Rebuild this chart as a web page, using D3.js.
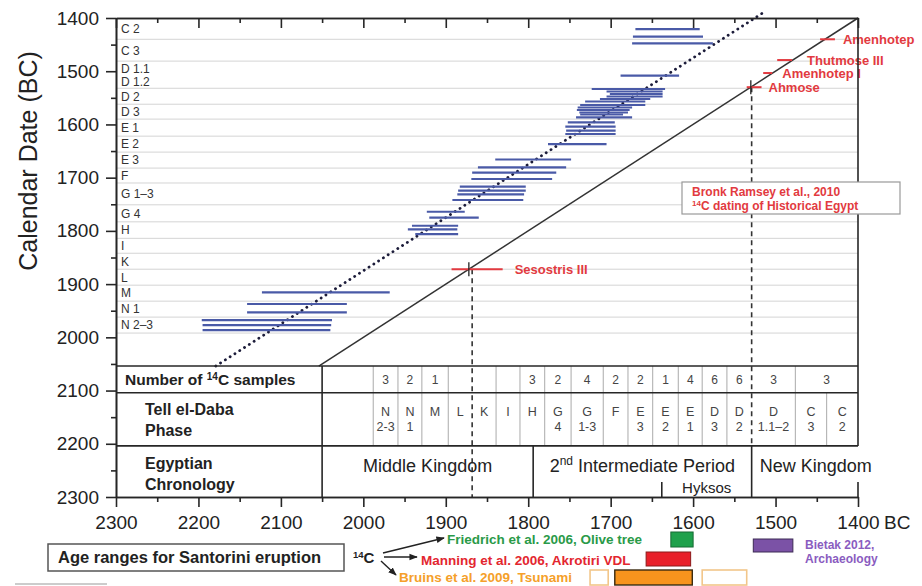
<!DOCTYPE html>
<html><head><meta charset="utf-8">
<script src="https://cdn.jsdelivr.net/npm/d3@7"></script>
<style>
body{margin:0;background:#fff}
svg{display:block}
text{font-family:"Liberation Sans",Arial,Helvetica,sans-serif}
</style>
</head><body>
<svg id="c" width="922" height="586"></svg>
<script>
// ---------------- DATA ----------------
const xTicks = [2300, 2200, 2100, 2000, 1900, 1800, 1700, 1600, 1500, 1400];
const yTicks = [1400, 1500, 1600, 1700, 1800, 1900, 2000, 2100, 2200, 2300];

// Tell el-Daba phase bands (calendar years BC)
const phaseLabels = ["C 2","C 3","D 1.1|D 1.2","D 2","D 3","E 1","E 2","E 3","F","G 1–3","G 4","H","I","K","L","M","N 1","N 2–3"];
const phaseBounds = [1400,1440,1481,1532,1562,1590,1622,1652,1682,1710,1751,1783,1814,1842,1872,1902,1932,1962,1992];

// 14C sample ranges: calendar date (y) and 14C range (x, from -> to)
const barCal  = [1421,1435,1447.5, 1508.4, 1533.4,1538.1,1542.8,1547.5,1552.2,1556.9, 1563.5,1568.2,1572.9,1577.6,1581.3,1586.6, 1596,1604.2,1611.8,1618, 1636.8, 1665.9,1680.5, 1690.7,1702.5, 1717,1724.5,1731.3,1742, 1764,1775.2, 1790.3,1797,1805.9, 1915.4, 1937.4,1953, 1967.5,1976.9,1986.3];
const barFrom = [1670,1673,1674, 1688, 1723,1705,1701,1705,1713,1731, 1737,1740,1741,1738,1737,1742, 1752,1755,1754,1755, 1776, 1840,1861, 1868,1869, 1883,1885,1886,1892, 1923,1920, 1941,1946,1937, 2123, 2141,2141, 2196,2195,2195];
const barTo   = [1592,1588,1576, 1617, 1634,1637,1637,1637,1652,1658, 1658,1674,1677,1679,1685,1674, 1695,1694,1694,1694, 1705, 1748,1754, 1766,1771, 1803,1803,1805,1806, 1877,1860, 1885,1886,1885, 1968, 2020,2020, 2038,2039,2040];

// Reference lines
const identityLine = [[2054,2054],[1400,1400]];
const offsetLine   = [[2179,2054],[1515,1390]];

// Bronk Ramsey et al. 2010 kings
const kingNames = ["Amenhotep","Thutmose III","Amenhotep I","Ahmose","Sesostris III"];
const kingCal   = [1440,1479,1503.4,1530,1872];
const kingFrom  = [1446,1498,1515,1535,1893];
const kingTo    = [1428,1480,1504,1517,1831];

// Table
const colBounds   = [2050,1988,1958,1929,1897,1868,1839,1810,1780,1748,1709,1679,1649,1618,1589,1559,1529,1476,1438,1400];
const phaseTop    = ["","N","N","M","L","K","I","H","G","G","F","E","E","E","D","D","D","C","C"];
const phaseBottom = ["","2-3","1","","","","","","4","1-3","","3","2","1","3","2","1.1–2","3","2"];
const sampleCounts= ["","3","2","1","","","","3","2","4","2","2","1","4","6","6","3","3"]; // last spans C 3 + C 2
const eraNames  = ["Middle Kingdom","Intermediate Period","New Kingdom"];
const eraBounds = [2050,1794,1529,1400];
const hyksosStart = 1638;

// Santorini eruption age ranges
const studyNames  = ["Friedrich et al. 2006, Olive tree","Manning et al. 2006, Akrotiri VDL","Bruins et al. 2009, Tsunami"];
const studyColors = ["#2a9a48","#e3262f","#f5a02a"];
const studyFrom   = [1627,1657,1695];
const studyTo     = [1600,1603,1601];
const bruinsOpenFrom = [1725,1589];
const bruinsOpenTo   = [1703,1535];
const bietakFrom = 1527, bietakTo = 1479;

// ---------------- CHART ----------------
const svg = d3.select("#c");
const x = d3.scaleLinear().domain([2300,1400]).range([116,858]);
const y = d3.scaleLinear().domain([1400,2300]).range([18,497]);
const ink = "#262626";

// phase gridlines
svg.append("g").selectAll("line").data(phaseBounds.slice(1)).join("line")
  .attr("x1",x(2300)).attr("x2",x(1400))
  .attr("y1",d=>y(d)).attr("y2",d=>y(d))
  .attr("stroke","#d4d4d4").attr("stroke-width",1);

// phase labels
const pl = svg.append("g").attr("font-size",12).attr("fill","#333");
phaseLabels.forEach((lab,i)=>{
  const mid = (y(phaseBounds[i]) + y(phaseBounds[i+1])) / 2;
  const parts = lab.split("|");
  parts.forEach((p,j)=>{
    const off = parts.length === 1 ? 0 : (j === 0 ? -6.5 : 6.5);
    pl.append("text").attr("x",121).attr("y",mid+off).attr("dy","0.36em").text(p);
  });
});

// identity line
const line = d3.line().x(d=>x(d[0])).y(d=>y(d[1]));
svg.append("path").attr("d",line(identityLine)).attr("fill","none")
  .attr("stroke","#333").attr("stroke-width",1.5);
// offset dotted line
svg.append("path").attr("d",line(offsetLine)).attr("fill","none")
  .attr("stroke","#1c1c3a").attr("stroke-width",2.8)
  .attr("stroke-linecap","round").attr("stroke-dasharray","0.1 5.6");

// 14C bars
svg.append("g").selectAll("line").data(barCal).join("line")
  .attr("x1",(d,i)=>x(barFrom[i])).attr("x2",(d,i)=>x(barTo[i]))
  .attr("y1",d=>y(d)).attr("y2",d=>y(d))
  .attr("stroke","#4a5aa7").attr("stroke-width",2.2);

// dashed verticals (Sesostris III, Ahmose)
const yT0 = y(2054), yT1 = y(2104), yT2 = y(2204), yB = y(2300);
svg.append("line").attr("x1",x(1868)).attr("x2",x(1868)).attr("y1",y(1872)).attr("y2",yB)
  .attr("stroke","#333").attr("stroke-width",1.6).attr("stroke-dasharray","5 4");
svg.append("line").attr("x1",x(1529)).attr("x2",x(1529)).attr("y1",y(1530)).attr("y2",yT2)
  .attr("stroke","#333").attr("stroke-width",1.6).attr("stroke-dasharray","5 4");

// king markers
const red = "#e23a40";
const kg = svg.append("g");
kingNames.forEach((k,i)=>{
  kg.append("line").attr("x1",x(kingFrom[i])).attr("x2",x(kingTo[i]))
    .attr("y1",y(kingCal[i])).attr("y2",y(kingCal[i]))
    .attr("stroke",red).attr("stroke-width",2);
});
[3,4].forEach(i=>{
  kg.append("line").attr("x1",x(kingCal[i])).attr("x2",x(kingCal[i]))
    .attr("y1",y(kingCal[i])-7).attr("y2",y(kingCal[i])+7)
    .attr("stroke","#222").attr("stroke-width",1.3);
});
const labelDx = [8,15,10,7,12];
kingNames.forEach((k,i)=>{
  kg.append("text").attr("x",x(kingTo[i])+labelDx[i]).attr("y",y(kingCal[i]))
    .attr("dy","0.36em").attr("font-size",13).attr("font-weight","bold")
    .attr("fill",red).text(k);
});

// Bronk Ramsey box
const bb = svg.append("g");
bb.append("rect").attr("x",682).attr("y",182).attr("width",218).attr("height",32)
  .attr("fill","#fff").attr("stroke","#999").attr("stroke-width",1.2);
bb.append("text").attr("x",692).attr("y",196).attr("font-size",12).attr("font-weight","bold")
  .attr("fill",red).text("Bronk Ramsey et al., 2010");
const bt = bb.append("text").attr("x",692).attr("y",210).attr("font-size",12).attr("font-weight","bold").attr("fill",red);
bt.append("tspan").attr("font-size",8).attr("dy",-4).text("14");
bt.append("tspan").attr("dy",4).text("C dating of Historical Egypt");

// ---------------- TABLE ----------------
const tb = svg.append("g");
colBounds.slice(1,-1).forEach(c=>{
  if (c === 1868 || c === 1529) return;
  const top = (c === 1438) ? yT1 : yT0;
  tb.append("line").attr("x1",x(c)).attr("x2",x(c)).attr("y1",top).attr("y2",yT2)
    .attr("stroke","#aaa").attr("stroke-width",1);
});
tb.append("line").attr("x1",x(1529)).attr("x2",x(1529)).attr("y1",yT2).attr("y2",yB)
  .attr("stroke",ink).attr("stroke-width",1.6);
tb.append("line").attr("x1",x(eraBounds[1])).attr("x2",x(eraBounds[1])).attr("y1",yT2).attr("y2",yB)
  .attr("stroke",ink).attr("stroke-width",1.6);
tb.append("line").attr("x1",x(hyksosStart)).attr("x2",x(hyksosStart)).attr("y1",482).attr("y2",yB)
  .attr("stroke",ink).attr("stroke-width",1.6);
[yT0,yT1,yT2].forEach(v=>{
  tb.append("line").attr("x1",x(2300)).attr("x2",x(1400)).attr("y1",v).attr("y2",v)
    .attr("stroke",ink).attr("stroke-width",1.6);
});
tb.append("line").attr("x1",x(2050)).attr("x2",x(2050)).attr("y1",yT0).attr("y2",yB)
  .attr("stroke",ink).attr("stroke-width",1.6);

sampleCounts.forEach((s,i)=>{
  if (!s) return;
  let cx = (x(colBounds[i]) + x(colBounds[i+1])) / 2;
  if (i === sampleCounts.length-1) cx = x(colBounds[i+1]);
  tb.append("text").attr("x",cx).attr("y",(yT0+yT1)/2).attr("dy","0.36em")
    .attr("text-anchor","middle").attr("font-size",12).attr("fill","#444").text(s);
});
phaseTop.forEach((p,i)=>{
  const cx = (x(colBounds[i]) + x(colBounds[i+1])) / 2;
  tb.append("text").attr("x",cx).attr("y",416).attr("text-anchor","middle")
    .attr("font-size",12.5).attr("fill","#444").text(p);
  if (phaseBottom[i]) tb.append("text").attr("x",cx).attr("y",431).attr("text-anchor","middle")
    .attr("font-size",12.5).attr("fill","#444").text(phaseBottom[i]);
});
const rl = tb.append("g").attr("font-weight","bold").attr("fill","#222");
const t1 = rl.append("text").attr("x",125).attr("y",385).attr("font-size",15.5);
t1.append("tspan").text("Number  of ");
t1.append("tspan").attr("font-size",10).attr("dy",-5).text("14");
t1.append("tspan").attr("dy",5).text("C samples");
rl.append("text").attr("x",145).attr("y",415).attr("font-size",16).text("Tell el-Daba");
rl.append("text").attr("x",145).attr("y",436).attr("font-size",16).text("Phase");
rl.append("text").attr("x",145).attr("y",469).attr("font-size",16).text("Egyptian");
rl.append("text").attr("x",145).attr("y",490).attr("font-size",16).text("Chronology");

tb.append("text").attr("x",(x(eraBounds[0])+x(eraBounds[1]))/2).attr("y",472)
  .attr("text-anchor","middle").attr("font-size",18).attr("fill","#222").text(eraNames[0]);
const e2 = tb.append("text").attr("x",(x(eraBounds[1])+x(eraBounds[2]))/2).attr("y",472)
  .attr("text-anchor","middle").attr("font-size",18).attr("fill","#222");
e2.append("tspan").text("2");
e2.append("tspan").attr("font-size",12).attr("dy",-7).text("nd");
e2.append("tspan").attr("dy",7).text(" " + eraNames[1]);
tb.append("text").attr("x",x(eraBounds[2])+8).attr("y",472)
  .attr("font-size",18).attr("fill","#222").text(eraNames[2]);
tb.append("text").attr("x",(x(hyksosStart)+x(1529))/2).attr("y",493)
  .attr("text-anchor","middle").attr("font-size",15).attr("fill","#222").text("Hyksos");

// ---------------- AXES / FRAME ----------------
function styleAxis(g){
  g.selectAll("path.domain").attr("stroke",ink).attr("stroke-width",1.6);
  g.selectAll(".tick line").attr("stroke",ink).attr("stroke-width",1.6);
  g.selectAll(".tick text").attr("fill","#222").attr("font-size",19)
    .attr("font-family","'Liberation Sans',Arial,sans-serif");
}
svg.append("g").attr("transform",`translate(${x(2300)},0)`)
  .call(d3.axisLeft(y).tickValues(d3.range(1450,2300,100)).tickSize(5).tickSizeOuter(0).tickFormat(""))
  .call(styleAxis);
svg.append("g").attr("transform",`translate(${x(2300)},0)`)
  .call(d3.axisLeft(y).tickValues(yTicks).tickSize(10).tickSizeOuter(0).tickPadding(7).tickFormat(d3.format("d")))
  .call(styleAxis);
svg.append("g").attr("transform",`translate(0,${yB})`)
  .call(d3.axisBottom(x).tickValues(d3.range(2250,1400,-100)).tickSize(5).tickSizeOuter(0).tickFormat(""))
  .call(styleAxis);
svg.append("g").attr("transform",`translate(0,${yB})`)
  .call(d3.axisBottom(x).tickValues(xTicks).tickSize(10).tickSizeOuter(0).tickPadding(9).tickFormat(d3.format("d")))
  .call(styleAxis);
svg.append("text").attr("x",x(1400)+26).attr("y",yB+19).attr("dy","0.71em")
  .attr("font-size",19).attr("fill","#222").text("BC");
svg.append("g").attr("transform",`translate(0,${y(1400)})`)
  .call(d3.axisBottom(x).tickValues(d3.range(2250,1400,-100)).tickSize(5).tickSizeOuter(0).tickFormat(""))
  .call(styleAxis);
svg.append("g").attr("transform",`translate(0,${y(1400)})`)
  .call(d3.axisBottom(x).tickValues(xTicks).tickSize(10).tickSizeOuter(0).tickFormat(""))
  .call(styleAxis);
svg.append("line").attr("x1",x(1400)).attr("x2",x(1400)).attr("y1",y(1400)).attr("y2",yT2)
  .attr("stroke",ink).attr("stroke-width",1.6);
svg.append("line").attr("x1",x(1400)).attr("x2",x(1400)).attr("y1",482).attr("y2",yB)
  .attr("stroke",ink).attr("stroke-width",1.6);
svg.node().appendChild(bb.node());

svg.append("text").attr("transform","translate(37,161) rotate(-90)")
  .attr("text-anchor","middle").attr("font-size",25).attr("fill","#222").text("Calendar Date (BC)");

// ---------------- LEGEND ----------------
const lg = svg.append("g");
lg.append("rect").attr("x",48).attr("y",544).attr("width",296).attr("height",27)
  .attr("fill","#fff").attr("stroke","#555").attr("stroke-width",1.5);
lg.append("text").attr("x",58).attr("y",563).attr("font-size",16.5).attr("font-weight","bold")
  .attr("fill","#222").text("Age ranges for Santorini eruption");
const c14 = lg.append("text").attr("x",353).attr("y",563).attr("font-size",15).attr("font-weight","bold").attr("fill","#222");
c14.append("tspan").attr("font-size",9.5).attr("dy",-5).text("14");
c14.append("tspan").attr("dy",5).text("C");

svg.append("defs").append("marker").attr("id","ah").attr("viewBox","0 0 10 10")
  .attr("refX",9).attr("refY",5).attr("markerWidth",6).attr("markerHeight",6).attr("orient","auto")
  .append("path").attr("d","M0,1 L10,5 L0,9 Z").attr("fill","#222");
const arrows = [[383,553,444,538],[384,557,417,557],[381,561,396,575]];
arrows.forEach(a=>{
  lg.append("line").attr("x1",a[0]).attr("y1",a[1]).attr("x2",a[2]).attr("y2",a[3])
    .attr("stroke","#222").attr("stroke-width",1.4).attr("marker-end","url(#ah)");
});
const textX = [447,421,399], textY = [543.5,564.5,581.5];
studyNames.forEach((s,i)=>{
  lg.append("text").attr("x",textX[i]).attr("y",textY[i]).attr("font-size",13.5)
    .attr("font-weight","bold").attr("fill",studyColors[i]).text(s);
});
const boxY = [[532,15],[552,14],[570,15]];
lg.append("rect").attr("x",x(studyFrom[0])).attr("y",boxY[0][0]).attr("width",x(studyTo[0])-x(studyFrom[0])).attr("height",boxY[0][1])
  .attr("fill","#1fa14c").attr("stroke","#176b34").attr("stroke-width",1);
lg.append("rect").attr("x",x(studyFrom[1])).attr("y",boxY[1][0]).attr("width",x(studyTo[1])-x(studyFrom[1])).attr("height",boxY[1][1])
  .attr("fill","#e8202a").attr("stroke","#8c1a1a").attr("stroke-width",1);
bruinsOpenFrom.forEach((f,i)=>{
  lg.append("rect").attr("x",x(f)).attr("y",boxY[2][0]).attr("width",x(bruinsOpenTo[i])-x(f)).attr("height",boxY[2][1])
    .attr("fill","#fff").attr("stroke","#f2c68a").attr("stroke-width",1.6);
});
lg.append("rect").attr("x",x(studyFrom[2])).attr("y",boxY[2][0]).attr("width",x(studyTo[2])-x(studyFrom[2])).attr("height",boxY[2][1])
  .attr("fill","#f7941d").attr("stroke","#3a2a10").attr("stroke-width",1.4);
lg.append("rect").attr("x",x(bietakFrom)).attr("y",539).attr("width",x(bietakTo)-x(bietakFrom)).attr("height",13)
  .attr("fill","#7b52a6").attr("stroke","#3d2a55").attr("stroke-width",1);
lg.append("text").attr("x",805).attr("y",548.5).attr("font-size",12).attr("font-weight","bold")
  .attr("fill","#8a5cbf").text("Bietak  2012,");
lg.append("text").attr("x",805).attr("y",562.5).attr("font-size",12).attr("font-weight","bold")
  .attr("fill","#8a5cbf").text("Archaeology");
lg.append("line").attr("x1",15).attr("x2",107).attr("y1",584).attr("y2",584)
  .attr("stroke","#bbb").attr("stroke-width",1.5);
</script>
</body></html>
